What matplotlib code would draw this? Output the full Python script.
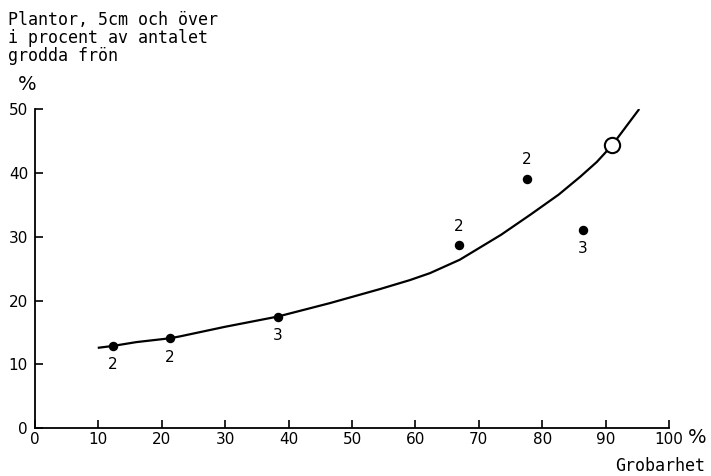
import matplotlib

matplotlib.use("Agg")
import matplotlib.pyplot as plt

# data
curve_x = [9.9, 12.3, 16.0, 21.3, 22.9, 30.0, 38.3, 46.5, 54.4, 59.1, 62.3,
           67.0, 73.5, 78.2, 82.6, 86.0, 88.6, 91.0, 95.3]
curve_y = [12.6, 12.9, 13.5, 14.1, 14.4, 15.9, 17.5, 19.6, 21.8, 23.2, 24.3,
           26.4, 30.3, 33.5, 36.6, 39.4, 41.7, 44.3, 50.0]

point_x = [12.3, 21.3, 38.3, 66.8, 77.6, 86.4]
point_y = [12.9, 14.1, 17.5, 28.7, 39.1, 31.1]
point_labels = ["2", "2", "3", "2", "2", "3"]
label_below = [True, True, True, False, False, True]

open_x = [91.0]
open_y = [44.3]

x_ticks = [0, 10, 20, 30, 40, 50, 60, 70, 80, 90, 100]
y_ticks = [0, 10, 20, 30, 40, 50]

title_lines = ["Plantor, 5cm och över", "i procent av antalet", "grodda frön"]

fig = plt.figure(figsize=(7.11, 4.76), dpi=100)
ax = fig.add_axes([0.0492, 0.1002, 0.8918, 0.6708])

ax.plot(curve_x, curve_y, color="black", linewidth=1.6, solid_capstyle="butt", zorder=2)
ax.plot(point_x, point_y, "o", color="black", markersize=5.8, zorder=3)
ax.plot(open_x, open_y, "o", markerfacecolor="white", markeredgecolor="black",
        markeredgewidth=1.5, markersize=11, zorder=4)

for x, y, lab, below in zip(point_x, point_y, point_labels, label_below):
    ax.annotate(lab, (x, y), xytext=(0, -13.5 if below else 13.5), textcoords="offset points",
                ha="center", va="center", fontsize=11)

ax.set_xlim(0, 100)
ax.set_ylim(0, 50)
ax.set_xticks(x_ticks)
ax.set_yticks(y_ticks)
ax.set_xticklabels([str(v) for v in x_ticks])
ax.set_yticklabels([str(v) for v in y_ticks])
ax.tick_params(direction="in", length=6, width=1.2, labelsize=11)
ax.tick_params(axis="x", pad=3)
ax.tick_params(axis="y", pad=5)
for side in ("top", "right"):
    ax.spines[side].set_visible(False)
for side in ("left", "bottom"):
    ax.spines[side].set_linewidth(1.3)
ax.patch.set_visible(False)

mono = "DejaVu Sans Mono"
for i, line in enumerate(title_lines):
    fig.text(0.011, 1 - (25 + 18 * i) / 476, line, ha="left", va="baseline",
             fontsize=12, family=mono)
fig.text(0.038, 0.8235, "%", ha="center", va="center", fontsize=14)
fig.text(0.980, 0.080, "%", ha="center", va="center", fontsize=14)
fig.text(0.9916, 0.021, "Grobarhet", ha="right", va="center", fontsize=12, family=mono)

fig.savefig("out.png", dpi=100)
